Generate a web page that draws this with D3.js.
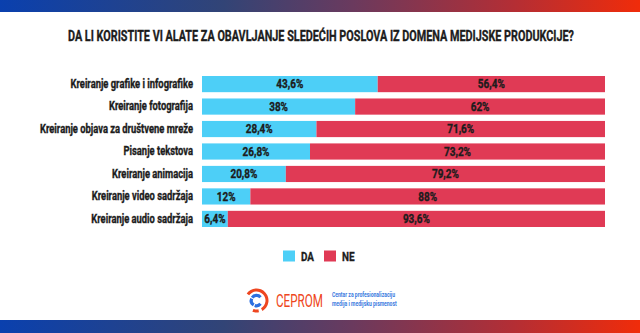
<!DOCTYPE html>
<html><head><meta charset="utf-8">
<script src="https://cdn.jsdelivr.net/npm/d3@7"></script>
<style>
html,body{margin:0;padding:0;background:#fff;}
svg{display:block;}
text{font-family:'Roboto','DejaVu Sans',sans-serif;font-weight:bold;}
</style></head>
<body>
<svg id="c" width="640" height="333"></svg>
<script>
const title = "DA LI KORISTITE VI ALATE ZA OBAVLJANJE SLEDEĆIH POSLOVA IZ DOMENA MEDIJSKE PRODUKCIJE?";
const categories = ["Kreiranje grafike i infografike","Kreiranje fotografija","Kreiranje objava za društvene mreže","Pisanje tekstova","Kreiranje animacija","Kreiranje video sadržaja","Kreiranje audio sadržaja"];
const daValues = [43.6,38,28.4,26.8,20.8,12,6.4];
const neValues = [56.4,62,71.6,73.2,79.2,88,93.6];
const seriesNames = ["DA","NE"];
const colors = ["#4dcff7","#e03a55"];

const svg = d3.select("#c");
const W = 640, H = 333;

function condense(sel, factor){
  sel.each(function(){
    const w = this.getComputedTextLength();
    d3.select(this).attr("textLength", w*factor).attr("lengthAdjust","spacingAndGlyphs");
  });
}
function factorFor(str, size, target, weight){
  const t = svg.append("text").attr("font-size",size).style("font-weight",weight||"bold").text(str);
  const w = t.node().getComputedTextLength(); t.remove();
  return target / w;
}

const defs = svg.append("defs");
const g = defs.append("linearGradient").attr("id","band").attr("x1","0").attr("x2","1").attr("y1","0").attr("y2","0");
g.append("stop").attr("offset","0%").attr("stop-color","#0a40ae");
g.append("stop").attr("offset","35%").attr("stop-color","#324476");
g.append("stop").attr("offset","55%").attr("stop-color","#6a3a5e");
g.append("stop").attr("offset","80%").attr("stop-color","#b32e35");
g.append("stop").attr("offset","100%").attr("stop-color","#f02c0a");
svg.append("rect").attr("x",0).attr("y",0).attr("width",W).attr("height",12).attr("fill","url(#band)");
svg.append("rect").attr("x",0).attr("y",320).attr("width",W).attr("height",13).attr("fill","url(#band)");

const heavy = sel => sel.attr("stroke","#1c1c1c").attr("stroke-width",0.35);

const tt = svg.append("text").attr("x",321).attr("y",40.7).attr("text-anchor","middle")
  .attr("font-size",15).attr("fill","#1c1c1c").text(title);
tt.attr("textLength",506).attr("lengthAdjust","spacingAndGlyphs");
heavy(tt);

const x = d3.scaleLinear().domain([0,100]).range([202,605]);
const y = d3.scaleBand().domain(categories).range([76,227]).paddingInner(0.28).paddingOuter(0);

const rows = categories.map((c,i)=>({c, da:daValues[i], ne:neValues[i]}));
const stacked = d3.stack().keys(["da","ne"])(rows);

const valFactor = factorFor("43,6%", 12, 27);
stacked.forEach((layer,li)=>{
  svg.append("g").selectAll("rect").data(layer).join("rect")
    .attr("x",d=>x(d[0])).attr("y",d=>y(d.data.c))
    .attr("width",d=>x(d[1])-x(d[0])).attr("height",y.bandwidth())
    .attr("fill",colors[li]);
  const labs = svg.append("g").selectAll("text").data(layer).join("text")
    .attr("x",d=>(x(d[0])+x(d[1]))/2).attr("y",d=>y(d.data.c)+y.bandwidth()/2)
    .attr("dy","0.36em").attr("text-anchor","middle").attr("font-size",12).attr("fill","#1c1c1c")
    .text(d=>String(+(d[1]-d[0]).toFixed(1)).replace(".",",")+"%");
  condense(labs, valFactor);
  heavy(labs);
});

const catFactor = factorFor(categories[2], 12, 153);
const yAxis = svg.append("g").attr("transform","translate(202,0)").call(d3.axisLeft(y).tickSize(0).tickPadding(9));
yAxis.select(".domain").remove();
yAxis.selectAll("text").attr("font-size",12).attr("fill","#1c1c1c")
  .style("font-family","'Roboto','DejaVu Sans',sans-serif").style("font-weight","bold");
condense(yAxis.selectAll("text"), catFactor);
heavy(yAxis.selectAll("text"));

const leg = svg.append("g");
const legX = [283,324];
const legFactor = factorFor("DA", 13, 13);
seriesNames.forEach((n,i)=>{
  leg.append("rect").attr("x",legX[i]).attr("y",250.5).attr("width",12).attr("height",11).attr("fill",colors[i]);
  const t = leg.append("text").attr("x",legX[i]+18).attr("y",256).attr("dy","0.36em").attr("font-size",13).attr("fill","#1c1c1c").text(n);
  condense(t, legFactor);
  heavy(t);
});

// logo
const lg = svg.append("g").attr("transform","translate(256.5,300.5)");
const arc = d3.arc();
const deg = Math.PI/180;
lg.append("path").attr("d",arc({innerRadius:9,outerRadius:12,startAngle:-55*deg,endAngle:150*deg})).attr("fill","#ee4620");
lg.append("path").attr("d",arc({innerRadius:9,outerRadius:12,startAngle:168*deg,endAngle:200*deg})).attr("fill","#ee4620");
[[130,200],[212,292],[304,410]].forEach(([a,b])=>{
  lg.append("path").attr("d",arc({innerRadius:3.6,outerRadius:6.8,startAngle:a*deg,endAngle:b*deg})).attr("fill","#2b6fe0");
});
const cp = svg.append("text").attr("x",276).attr("y",306.5).attr("font-size",18).attr("fill","#ee4620")
  .style("font-weight","normal").text("CEPROM");
cp.attr("textLength",47).attr("lengthAdjust","spacingAndGlyphs");
const s1 = svg.append("text").attr("x",332).attr("y",297).attr("font-size",7).attr("fill","#3a7be0").text("Centar za profesionalizaciju");
const s2 = svg.append("text").attr("x",332).attr("y",305.5).attr("font-size",7).attr("fill","#3a7be0").text("medija i medijsku pismenost");
const sFactor = factorFor("Centar za profesionalizaciju", 7, 63);
condense(s1, sFactor); condense(s2, sFactor);
</script>
</body></html>
